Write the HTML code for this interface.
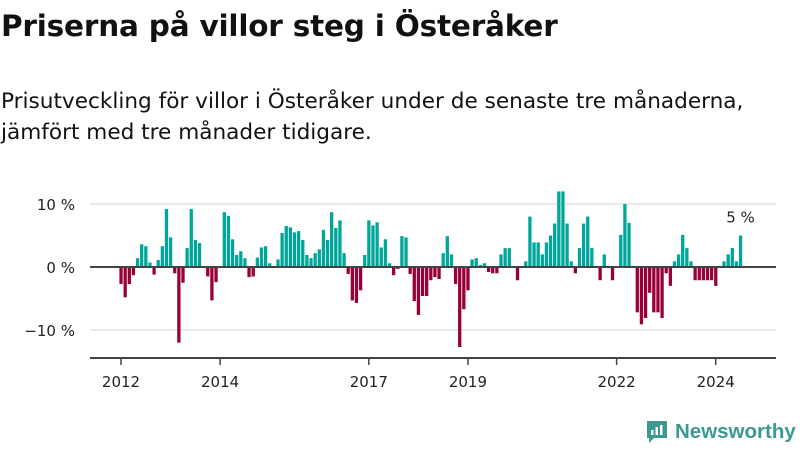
<!DOCTYPE html>
<html><head><meta charset="utf-8"><style>
body{margin:0;width:800px;height:450px;background:#fff;font-family:"DejaVu Sans","Liberation Sans",sans-serif;color:#111;overflow:hidden;position:relative}
h1{position:absolute;left:1px;top:9px;margin:0;font-size:29.5px;font-weight:bold;letter-spacing:-0.2px}
.sub{position:absolute;left:1px;top:86px;margin:0;font-size:21.6px;line-height:31px}
svg{position:absolute;left:0;top:0}
</style></head><body>
<h1>Priserna på villor steg i Österåker</h1>
<p class="sub">Prisutveckling för villor i Österåker under de senaste tre månaderna,<br>jämfört med tre månader tidigare.</p>
<svg id="c" width="800" height="450"></svg>
<script>
const values=[-2.7,-4.8,-2.7,-1.3,1.4,3.6,3.3,0.7,-1.2,1.1,3.3,9.2,4.7,-1.0,-12,-2.5,3.0,9.2,4.3,3.8,0,-1.5,-5.3,-2.4,0,8.7,8.1,4.4,1.9,2.5,1.4,-1.6,-1.5,1.5,3.1,3.3,0.6,0,1.2,5.4,6.5,6.3,5.5,5.7,4.3,1.9,1.4,2.2,2.8,5.9,4.3,8.7,6.2,7.4,2.2,-1.1,-5.3,-5.7,-3.7,1.9,7.4,6.6,7.1,3.1,4.4,0.6,-1.3,-0.3,4.9,4.7,-1.1,-5.4,-7.6,-4.6,-4.6,-2.1,-1.6,-1.9,2.2,4.9,2.0,-2.7,-12.7,-6.7,-3.7,1.2,1.4,0.3,0.6,-0.8,-1.0,-1.0,2.0,3.0,3.0,0,-2.1,0,0.9,8.0,3.9,3.9,2.0,3.9,5.0,6.9,12.0,12.0,6.9,0.9,-1.0,3.0,6.9,8.0,3.0,0,-2.1,2.0,0,-2.1,0,5.1,10.0,7.0,0,-7.2,-9.1,-8.1,-4.1,-7.2,-7.2,-8.1,-1.0,-3.0,0.9,2.0,5.1,3.0,0.9,-2.1,-2.1,-2.1,-2.1,-2.1,-3.0,0,0.9,2.0,3.0,0.9,5.0];
const startYear=2012;
const yTicks=[10,0,-10];
const yTickLabels=["10 %","0 %","−10 %"];
const xTickYears=[2012,2014,2017,2019,2022,2024];
const NS="http://www.w3.org/2000/svg";
const svg=document.getElementById('c');
const y=v=>267-v*6.3;
const x=m=>121+m*4.13;
function mk(t,a){const e=document.createElementNS(NS,t);for(const k in a)e.setAttribute(k,a[k]);svg.appendChild(e);return e;}
yTicks.forEach((t,i)=>{
  if(t!==0){const g=mk('line',{x1:90,x2:776,y1:y(t),y2:y(t),stroke:'#e2e2e2','stroke-width':1.5});
  
  }
  const l=mk('text',{x:75,y:y(t)+6,'text-anchor':'end','font-size':15,fill:'#222'});
  l.textContent=yTickLabels[i];
  
  
});
values.forEach((v,i)=>{
  if(v===0)return;
  const r=mk('rect',{x:x(i)-1.6,width:3.3,y:Math.min(y(v),y(0)),height:Math.abs(y(v)-y(0)),fill:v>0?'#00a69a':'#98003a'});
  
  
});
const z=mk('line',{x1:90,x2:776,y1:y(0),y2:y(0),stroke:'#444','stroke-width':2});


const ax=mk('line',{x1:90,x2:776,y1:358,y2:358,stroke:'#444','stroke-width':2});


xTickYears.forEach(yr=>{
  const px=x((yr-startYear)*12);
  const t=mk('line',{x1:px,x2:px,y1:358,y2:365,stroke:'#444','stroke-width':1.5});
  
  
  const l=mk('text',{x:px,y:387,'text-anchor':'middle','font-size':15,fill:'#222'});
  l.textContent=yr;
  
  
});
const last=values.length-1;
const lab=mk('text',{x:x(last),y:y(values[last])-13,'text-anchor':'middle','font-size':15,fill:'#222'});
lab.textContent=Math.round(values[last])+" %";


</script>
<div style="position:absolute;left:645px;top:419px;display:flex;align-items:center;gap:6px">
<svg width="24" height="26" style="position:static" viewBox="0 0 24 26"><path d="M2 2h20v17H9l-5 5v-5H2z" fill="#3a9a8f"/><rect x="6" y="11" width="2.5" height="5" fill="#fff"/><rect x="10.5" y="8" width="2.5" height="8" fill="#fff"/><rect x="15" y="6" width="2.5" height="10" fill="#fff"/></svg>
<span style="font-size:20.5px;color:#3a9a8f;font-weight:bold;font-family:'Liberation Sans',sans-serif">Newsworthy</span></div>
</body></html>
